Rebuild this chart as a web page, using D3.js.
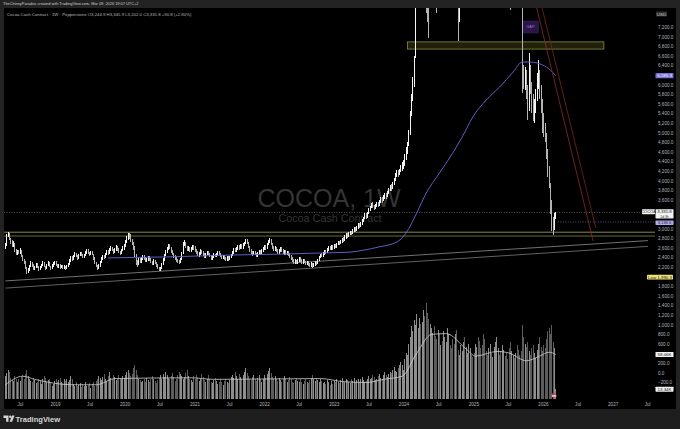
<!DOCTYPE html>
<html><head><meta charset="utf-8">
<script src="https://cdn.jsdelivr.net/npm/d3@7"></script>
<style>html,body{margin:0;padding:0;background:#222;}svg{display:block;font-family:"Liberation Sans",Arial,sans-serif;}</style>
</head><body><svg id="c" width="680" height="429"></svg>
<script>
// ---------- DATA ----------
// weekly candles per calendar segment: [high, low, close]; open = previous close
const segmentStarts = ['2018-04-16','2018-12-31','2019-12-30','2020-12-28','2021-12-27','2022-12-26','2023-12-25','2024-12-30','2025-12-29'];
const firstOpen = 2600;
const candles2018 = [[2700,2580,2650],[2880,2630,2850],[2920,2820,2880],[2900,2760,2780],[2800,2680,2720],[2760,2620,2650],[2740,2610,2700],[2710,2520,2540],[2570,2450,2480],[2560,2440,2520],[2560,2470,2500],[2590,2480,2540],[2550,2410,2430],[2450,2320,2340],[2370,2270,2300],[2320,2150,2180],[2200,2060,2100],[2170,2080,2140],[2250,2120,2220],[2330,2200,2290],[2310,2210,2240],[2260,2130,2150],[2230,2130,2200],[2290,2180,2260],[2280,2180,2210],[2230,2120,2150],[2220,2130,2190],[2270,2170,2240],[2330,2220,2300],[2310,2190,2210],[2230,2140,2170],[2270,2150,2240],[2320,2220,2290],[2300,2190,2210],[2230,2130,2160],[2260,2150,2230],[2300,2200,2270]];
const candles2019 = [[2330,2240,2300],[2320,2230,2250],[2270,2170,2200],[2270,2180,2240],[2260,2160,2190],[2250,2170,2230],[2240,2150,2180],[2250,2160,2220],[2230,2140,2170],[2240,2150,2210],[2290,2190,2260],[2360,2240,2330],[2420,2310,2390],[2420,2330,2360],[2450,2340,2420],[2510,2400,2470],[2490,2400,2430],[2450,2350,2380],[2470,2360,2440],[2520,2420,2490],[2520,2430,2460],[2480,2380,2410],[2480,2390,2450],[2540,2430,2500],[2580,2480,2550],[2570,2470,2500],[2520,2430,2460],[2540,2440,2510],[2530,2440,2470],[2480,2350,2380],[2400,2270,2300],[2310,2190,2220],[2240,2140,2170],[2260,2150,2230],[2330,2210,2300],[2400,2280,2370],[2460,2350,2430],[2460,2370,2400],[2500,2390,2470],[2560,2450,2520],[2550,2460,2490],[2590,2470,2550],[2640,2530,2600],[2620,2530,2560],[2580,2480,2510],[2600,2490,2560],[2650,2540,2610],[2630,2540,2570],[2590,2490,2520],[2540,2450,2480],[2580,2470,2550],[2640,2530,2600]];
const candles2020 = [[2680,2560,2640],[2760,2620,2720],[2840,2700,2800],[2900,2770,2860],[2910,2790,2830],[2880,2730,2760],[2790,2650,2700],[2720,2560,2600],[2630,2400,2450],[2480,2240,2300],[2340,2200,2260],[2380,2250,2340],[2380,2280,2310],[2400,2290,2370],[2440,2340,2410],[2440,2350,2380],[2400,2300,2330],[2390,2300,2360],[2430,2330,2400],[2420,2320,2350],[2380,2280,2310],[2330,2240,2280],[2360,2250,2330],[2350,2260,2290],[2310,2210,2240],[2260,2160,2190],[2210,2120,2150],[2210,2110,2180],[2290,2160,2260],[2380,2240,2350],[2470,2330,2440],[2560,2420,2520],[2620,2500,2580],[2680,2560,2640],[2670,2570,2600],[2620,2500,2530],[2560,2450,2480],[2500,2390,2420],[2440,2340,2380],[2410,2310,2340],[2370,2280,2320],[2350,2270,2300],[2390,2280,2360],[2510,2340,2480],[2720,2470,2680],[2770,2630,2720],[2730,2590,2620],[2640,2530,2560],[2630,2530,2600],[2620,2510,2540],[2610,2510,2580],[2650,2550,2620]];
const candles2021 = [[2660,2560,2600],[2630,2520,2550],[2580,2470,2500],[2530,2420,2450],[2520,2410,2490],[2570,2460,2540],[2560,2470,2500],[2530,2430,2460],[2490,2390,2420],[2490,2390,2460],[2540,2440,2510],[2530,2440,2470],[2490,2400,2420],[2450,2350,2380],[2450,2350,2420],[2490,2390,2460],[2480,2400,2430],[2500,2410,2470],[2540,2440,2510],[2540,2450,2480],[2500,2410,2440],[2460,2370,2400],[2460,2370,2430],[2450,2350,2380],[2410,2320,2350],[2420,2330,2390],[2420,2330,2360],[2430,2340,2400],[2480,2380,2450],[2530,2430,2500],[2590,2480,2560],[2600,2510,2540],[2610,2510,2580],[2650,2550,2620],[2650,2560,2590],[2670,2570,2640],[2670,2570,2600],[2690,2580,2650],[2730,2630,2700],[2780,2670,2740],[2790,2670,2700],[2720,2590,2620],[2640,2520,2550],[2580,2470,2500],[2530,2430,2460],[2540,2440,2510],[2530,2440,2470],[2490,2400,2430],[2510,2410,2480],[2550,2450,2520],[2550,2460,2490],[2570,2470,2540]];
const candles2022 = [[2610,2510,2580],[2650,2550,2620],[2660,2560,2590],[2690,2580,2660],[2760,2650,2720],[2810,2690,2760],[2780,2650,2680],[2700,2570,2600],[2630,2530,2560],[2630,2530,2600],[2620,2520,2550],[2580,2480,2510],[2580,2480,2550],[2620,2520,2590],[2610,2510,2540],[2570,2470,2500],[2560,2460,2530],[2550,2450,2480],[2540,2440,2510],[2530,2430,2460],[2490,2390,2420],[2440,2340,2380],[2410,2310,2340],[2370,2270,2300],[2360,2270,2330],[2350,2260,2290],[2360,2260,2330],[2400,2300,2370],[2400,2310,2340],[2360,2270,2300],[2370,2270,2340],[2360,2280,2310],[2330,2240,2270],[2330,2240,2300],[2320,2230,2260],[2290,2200,2230],[2300,2200,2270],[2290,2180,2220],[2290,2190,2260],[2330,2230,2300],[2330,2240,2280],[2360,2260,2330],[2420,2320,2390],[2480,2380,2450],[2490,2400,2430],[2510,2410,2480],[2560,2460,2530],[2560,2470,2500],[2590,2490,2560],[2640,2540,2610],[2640,2550,2580],[2650,2550,2620]];
const candles2023 = [[2650,2560,2600],[2680,2570,2650],[2680,2590,2620],[2710,2600,2680],[2750,2650,2720],[2750,2660,2690],[2770,2670,2740],[2810,2710,2780],[2820,2730,2760],[2860,2750,2820],[2900,2790,2860],[2900,2800,2840],[2930,2820,2890],[2960,2860,2930],[2960,2870,2900],[2990,2880,2950],[3030,2920,2990],[3030,2930,2960],[3050,2940,3010],[3110,2990,3070],[3110,3010,3040],[3140,3030,3100],[3190,3080,3150],[3250,3140,3210],[3320,3200,3280],[3320,3210,3250],[3350,3230,3310],[3420,3300,3380],[3470,3360,3430],[3540,3420,3500],[3560,3430,3470],[3500,3380,3420],[3520,3400,3480],[3560,3450,3520],[3560,3440,3480],[3590,3470,3550],[3650,3530,3610],[3650,3540,3580],[3700,3570,3650],[3740,3620,3700],[3740,3620,3660],[3780,3650,3740],[3850,3720,3800],[3910,3780,3870],[3920,3790,3830],[3970,3820,3920],[4060,3910,4010],[4150,4000,4100],[4220,4070,4170],[4230,4080,4130],[4250,4110,4200],[4320,4180,4260]];
const candles2024 = [[4380,4200,4300],[4420,4250,4350],[4550,4300,4480],[4700,4430,4620],[4800,4550,4750],[5050,4720,5000],[5450,4950,5380],[5800,5350,5700],[6150,5650,6050],[6600,5950,6500],[7700,6550,7500],[8200,7650,8000],[9200,7900,9000],[10000,8900,9700],[10300,9200,9600],[11000,9500,10500],[12200,10300,11500],[12000,10200,10900],[11000,7500,8400],[8900,7300,8000],[8500,6970,7800],[9000,7700,8800],[9600,8600,9300],[10000,9100,9800],[10300,9400,9700],[9900,8700,9000],[9100,7500,7900],[8500,7700,8200],[8500,7700,8000],[8600,7800,8300],[8500,7800,8100],[8800,7900,8500],[9100,8300,8900],[9500,8700,9200],[9900,9000,9600],[10100,9400,9800],[9900,9000,9300],[9400,8400,8700],[8800,7900,8100],[8300,7650,7800],[8100,7700,7900],[8000,7660,7700],[7800,6900,7150],[7900,7300,7700],[8300,7650,8100],[8800,8000,8600],[9200,8500,8900],[9100,8300,8700],[9600,8700,9300],[10400,9300,10100],[11500,10000,11200],[12900,11000,12000],[12300,11100,11600]];
const candles2025 = [[12000,10700,11200],[11600,10500,11000],[11800,10800,11400],[12300,11200,11900],[12000,10800,11100],[11200,10000,10300],[10600,9600,10000],[10200,9000,9400],[9500,8200,8600],[8900,7800,8200],[8500,7700,8100],[8300,7700,8000],[8400,7750,8100],[8600,7900,8300],[8500,7800,8100],[8600,7900,8300],[9000,8200,8800],[9400,8600,9200],[9800,9000,9500],[10300,9300,10000],[10200,9300,9700],[9900,9000,9300],[9700,9000,9400],[9900,9200,9600],[9700,8900,9200],[9300,8500,8900],[9000,8200,8500],[8700,7900,8300],[8400,7550,8000],[8500,7800,8200],[8600,7900,8300],[8500,7800,8100],[8500,7850,8200],[8400,7800,8100],[8300,7700,8000],[8200,7650,7900],[8100,7620,7800],[7900,5820,6300],[6400,5900,6100],[6360,5880,6200],[6300,5700,5800],[6000,5260,5500],[6650,5450,6300],[6400,5800,6000],[6050,5400,5600],[5800,5250,5300],[5700,5200,5500],[5900,5400,5700],[6240,5650,6000],[6510,5900,6200],[6300,5700,5900],[6000,5400,5600]];
const candles2026 = [[5700,5000,5300],[5400,4900,5000],[5200,4800,4950],[5000,4450,4600],[4650,4080,4200],[4300,3850,3900],[3950,3300,3550],[3600,2950,3100],[3250,2870,3050],[3330,2980,3245],[3346,3202,3336]];
// weekly volume (thousands)
const volume2018 = [30,34,38,36,28,25,24,30,27,22,26,24,29,31,27,33,38,30,26,24,22,28,25,21,23,27,24,20,26,30,28,23,25,27,22,18,20];
const volume2019 = [24,26,22,25,28,23,21,26,24,27,22,25,30,26,20,18,22,17,19,21,16,20,18,23,17,19,21,15,20,22,18,24,26,30,28,25,29,33,27,24,30,35,28,26,31,29,25,27,32,28,26,30];
const volume2020 = [28,32,36,38,34,30,33,40,45,38,32,27,25,22,24,26,23,28,25,22,26,30,27,24,21,25,28,31,27,33,29,35,32,28,26,30,34,29,24,27,31,36,33,30,27,29,34,38,30,27,25,22];
const volume2021 = [30,26,32,28,24,27,33,29,25,22,27,31,26,23,21,25,28,24,20,23,26,22,19,24,27,23,21,25,29,32,28,35,30,27,33,29,26,31,36,40,34,30,27,25,29,32,27,24,28,31,26,23];
const volume2022 = [27,31,28,33,37,40,34,29,26,30,27,24,28,25,23,27,30,26,22,25,29,26,23,21,25,28,24,22,26,23,20,24,27,23,21,25,28,31,26,24,28,25,22,26,24,21,23,20,25,22,19,24];
const volume2023 = [20,24,22,26,23,21,25,28,24,22,27,25,23,21,26,24,28,22,25,27,23,26,29,25,22,24,27,30,26,28,32,29,25,27,30,33,28,26,31,35,32,29,33,36,34,38,42,37,35,40,44,48];
const volume2024 = [45,38,52,60,58,72,80,95,88,102,96,110,92,105,98,100,115,108,125,112,104,98,92,86,95,82,78,90,84,70,76,88,80,74,92,85,70,66,78,72,84,90,64,58,70,62,74,80,68,60,72,66,58];
const volume2025 = [55,60,72,68,80,75,66,70,84,78,62,58,66,72,60,55,68,74,80,66,58,62,70,64,56,60,52,66,74,62,58,54,60,70,64,58,62,96,80,72,68,74,62,58,66,70,60,54,64,72,80,68];
const volume2026 = [62,70,66,78,88,92,84,96,74,66,13.34];
// long moving average (blue line)
const smaDates = ['2019-10-07','2020-08-10','2021-07-19','2022-04-11','2022-10-03','2023-03-27','2023-06-05','2023-08-28','2023-11-27','2024-01-15','2024-03-11','2024-04-29','2024-07-08','2024-09-16','2024-11-04','2024-12-30','2025-03-10','2025-05-19','2025-07-28','2025-09-15','2025-10-27','2025-12-01','2025-12-29','2026-02-09','2026-03-09'];
const smaValues = [2390,2410,2450,2470,2490,2510,2550,2620,2720,2910,3330,3740,4160,4580,4910,5330,5680,5950,6260,6470,6470,6450,6410,6300,6185.3];
// volume moving average (K)
const volMaDates = ['2018-04-16','2018-07-16','2018-09-17','2019-04-01','2019-08-05','2019-11-11','2020-12-14','2021-04-12','2022-10-24','2023-02-20','2023-06-26','2023-09-18','2023-12-25','2024-03-11','2024-05-27','2024-08-12','2024-11-25','2025-01-13','2025-05-05','2025-07-07','2025-10-06','2025-12-15','2026-02-02','2026-03-09'];
const volMaValues = [19,30,26,19,19,27,28,26,27,23,22,26,30,60,84,85,65,56,62,60,50,56,61,58.06];
// drawings
const levelPrices = [2925, 2845];
const trendUpperDates = ['2018-04-16','2027-07-05'], trendUpperPrices = [1910, 2750];
const trendLowerDates = ['2018-04-16','2027-07-05'], trendLowerPrices = [1760, 2630];
const redUpperDates = ['2025-10-13','2026-09-21'], redUpperPrices = [8370, 2740];
const redLowerDates = ['2025-11-10','2026-10-05'], redLowerPrices = [8370, 3010];
const zoneDates = ['2024-01-22','2026-11-16'], zonePrices = [6890, 6740];
const gapDates = ['2025-09-15','2025-12-08'], gapPrices = [7325, 7075];
// axes (labels hidden under the scale badges are left out, as on the chart)
const priceTicks = [7200,7000,6800,6600,6400,6000,5800,5600,5400,5200,5000,4800,4600,4400,4200,4000,3800,3600,3000,2800,2600,2400,2200,1800,1600,1400,1200,1000,800,600,200,0,-200];
const timeTickDates = ['2018-07-01','2019-01-01','2019-07-01','2020-01-01','2020-07-01','2021-01-01','2021-07-01','2022-01-01','2022-07-01','2023-01-01','2023-07-01','2024-01-01','2024-07-01','2025-01-01','2025-07-01','2026-01-01','2026-07-01','2027-01-01','2027-07-01'];
const timeTickLabels = ['Jul','2019','Jul','2020','Jul','2021','Jul','2022','Jul','2023','Jul','2024','Jul','2025','Jul','2026','Jul','2027','Jul'];
const lastClose = 3335.8, secondLine = 3138.6, lowMark = 1990.3, lastVolMa = 58.06, lastVolume = 13.34;
const headerText = 'TheChinnyParadox created with TradingView.com, Mar 09, 2026 19:07 UTC+2';
const legendText = 'Cocoa Cash Contract · 1W · Pepperstone   O3,244.9 H3,345.9 L3,202.0 C3,335.8 +90.8 (+2.80%)';

// ---------- BUILD ----------
const P = d3.timeParse('%Y-%m-%d');
const candleSegments = [candles2018,candles2019,candles2020,candles2021,candles2022,candles2023,candles2024,candles2025,candles2026];
const volumeSegments = [volume2018,volume2019,volume2020,volume2021,volume2022,volume2023,volume2024,volume2025,volume2026];
const bars = [];
let prev = firstOpen;
candleSegments.forEach((seg, si) => {
  const s = P(segmentStarts[si]);
  seg.forEach((c, j) => {
    bars.push({date: d3.timeDay.offset(s, 7*j), open: prev, high: c[0], low: c[1], close: c[2], vol: volumeSegments[si][j]});
    prev = c[2];
  });
});

const svg = d3.select('#c');
const pane = {l: 4, r: 655, t: 8, b: 399};
const x = d3.scaleTime().domain([P('2018-04-14'), P('2027-08-11')]).range([5, 655]);
const y = d3.scaleLinear().domain([0, 7200]).range([372.6, 27]);
const yv = d3.scaleLinear().domain([0, lastVolMa]).range([399.5, 354.5]);

// frame
svg.append('rect').attr('width', 680).attr('height', 429).attr('fill', '#232323');
svg.append('rect').attr('x', 4).attr('y', 8).attr('width', 672).attr('height', 401).attr('fill', '#000');
svg.append('rect').attr('x', 0).attr('y', 409).attr('width', 680).attr('height', 20).attr('fill', '#1e1e1e');

svg.append('defs').append('clipPath').attr('id', 'pc').append('rect')
  .attr('x', pane.l).attr('y', pane.t).attr('width', pane.r - pane.l).attr('height', pane.b - pane.t);
const g = svg.append('g').attr('clip-path', 'url(#pc)');

// watermark
g.append('text').attr('x', 329).attr('y', 207).attr('text-anchor', 'middle').attr('font-size', 25)
  .attr('fill', '#353535').text('COCOA, 1W');
g.append('text').attr('x', 330).attr('y', 222).attr('text-anchor', 'middle').attr('font-size', 10.8)
  .attr('fill', '#353535').text('Cocoa Cash Contract');

// zone box
g.append('rect').attr('x', x(P(zoneDates[0]))).attr('y', y(zonePrices[0]))
  .attr('width', x(P(zoneDates[1])) - x(P(zoneDates[0]))).attr('height', y(zonePrices[1]) - y(zonePrices[0]))
  .attr('fill', 'rgba(120,118,40,0.28)').attr('stroke', '#8c8a3c').attr('stroke-width', 0.8);
// gap box
g.append('rect').attr('x', x(P(gapDates[0]))).attr('y', y(gapPrices[0]))
  .attr('width', x(P(gapDates[1])) - x(P(gapDates[0]))).attr('height', y(gapPrices[1]) - y(gapPrices[0]))
  .attr('fill', '#2b1746').attr('stroke', '#3d2160').attr('stroke-width', 0.5);
g.append('text').attr('x', (x(P(gapDates[0])) + x(P(gapDates[1]))) / 2).attr('y', (y(gapPrices[0]) + y(gapPrices[1])) / 2 + 1.4)
  .attr('text-anchor', 'middle').attr('font-size', 4).attr('fill', '#a56ad8').text('GAP');

// level lines
g.selectAll('line.lvl').data(levelPrices).join('line').attr('class', 'lvl')
  .attr('x1', pane.l).attr('x2', pane.r).attr('y1', d => y(d)).attr('y2', d => y(d))
  .attr('stroke', (d, i) => i === 0 ? '#9a984a' : '#77763a').attr('stroke-width', 0.9);

const segLine = (dates, prices, color, w) => g.append('line')
  .attr('x1', x(P(dates[0]))).attr('y1', y(prices[0])).attr('x2', x(P(dates[1]))).attr('y2', y(prices[1]))
  .attr('stroke', color).attr('stroke-width', w);
segLine(trendUpperDates, trendUpperPrices, '#8d8d8d', 0.8);
segLine(trendLowerDates, trendLowerPrices, '#7a7a7a', 0.8);

// current price dotted line
g.append('line').attr('x1', pane.l).attr('x2', pane.r).attr('y1', y(lastClose)).attr('y2', y(lastClose))
  .attr('stroke', '#8a8a8a').attr('stroke-width', 0.6).attr('stroke-dasharray', '1,1.5');
const lastX = x(bars[bars.length - 1].date);
g.append('line').attr('x1', lastX + 2).attr('x2', pane.r).attr('y1', y(secondLine)).attr('y2', y(secondLine))
  .attr('stroke', '#8f86d8').attr('stroke-width', 0.6).attr('stroke-dasharray', '1,1.5');

// volume bars
g.selectAll('rect.v').data(bars).join('rect').attr('class', 'v')
  .attr('x', d => Math.floor(x(d.date))).attr('width', 1)
  .attr('y', d => yv(d.vol)).attr('height', d => yv(0) - yv(d.vol))
  .attr('fill', d => d.close >= d.open ? '#8e8e8e' : '#5c5c5c').attr('shape-rendering', 'crispEdges');
// volume MA
g.append('path').datum(volMaDates.map((d, i) => [P(d), volMaValues[i]]))
  .attr('d', d3.line().x(d => x(d[0])).y(d => yv(d[1])).curve(d3.curveMonotoneX))
  .attr('fill', 'none').attr('stroke', '#cfcfcf').attr('stroke-width', 0.8);

// candles
g.selectAll('rect.k').data(bars).join('rect').attr('class', 'k')
  .attr('x', d => Math.floor(x(d.date))).attr('width', 1)
  .attr('y', d => y(d.high)).attr('height', d => Math.max(1, y(d.low) - y(d.high)))
  .attr('fill', d => d.close >= d.open ? '#f4f4f4' : '#b4b4b4').attr('shape-rendering', 'crispEdges');

// SMA
g.append('path').datum(smaDates.map((d, i) => [P(d), smaValues[i]]))
  .attr('d', d3.line().x(d => x(d[0])).y(d => y(d[1])).curve(d3.curveMonotoneX))
  .attr('fill', 'none').attr('stroke', '#6a68d8').attr('stroke-width', 0.9);

// red channel lines
segLine(redUpperDates, redUpperPrices, '#8a2b2b', 0.8);
segLine(redLowerDates, redLowerPrices, '#7a2626', 0.8);

// event flag
const fl = svg.append('g').attr('transform', `translate(${Math.floor(lastX) - 1},395.5)`);
fl.append('circle').attr('r', 2.4).attr('fill', '#d23b3b');
fl.append('rect').attr('x', -2.2).attr('y', -0.6).attr('width', 4.4).attr('height', 0.7).attr('fill', '#fff');
fl.append('rect').attr('x', -2.2).attr('y', 0.9).attr('width', 4.4).attr('height', 0.6).attr('fill', '#fff');
fl.append('rect').attr('x', -1.8).attr('y', -2).attr('width', 1.8).attr('height', 1.4).attr('fill', '#3355aa');

// ---------- AXES ----------
const fmt = d3.format(',.1f');
const ya = svg.append('g').attr('transform', `translate(${pane.r},0)`)
  .call(d3.axisRight(y).tickValues(priceTicks).tickFormat(fmt).tickSize(0).tickPadding(3));
ya.select('.domain').remove();
ya.selectAll('text').attr('font-size', 4.6).attr('fill', '#b2b5be').attr('font-family', '"Liberation Sans",Arial,sans-serif');

const xa = svg.append('g').attr('transform', 'translate(0,403)')
  .call(d3.axisBottom(x).tickValues(timeTickDates.map(P)).tickFormat((d, i) => timeTickLabels[i]).tickSize(0).tickPadding(0));
xa.select('.domain').remove();
xa.selectAll('text').attr('font-size', 4.6).attr('fill', '#b2b5be').attr('font-family', '"Liberation Sans",Arial,sans-serif');

// badges on price scale
function badge(yc, txt, fill, color, x0, w, h, fs) {
  svg.append('rect').attr('x', x0).attr('y', yc - h / 2).attr('width', w).attr('height', h).attr('rx', 0.6).attr('fill', fill);
  svg.append('text').attr('x', x0 + w / 2).attr('y', yc + 1.5).attr('text-anchor', 'middle')
    .attr('font-size', fs || 4.4).attr('fill', color).text(txt);
}
badge(14, 'USD', '#303030', '#c8c8c8', 656, 11, 5);
badge(y(smaValues[smaValues.length - 1]), fmt(smaValues[smaValues.length - 1]), '#7b70d9', '#ffffff', 655.5, 18, 5.2);
// last price badge with countdown line
svg.append('rect').attr('x', 655.5).attr('y', y(lastClose) - 3.3).attr('width', 18).attr('height', 9.2).attr('rx', 0.6).attr('fill', '#f2f2f2');
svg.append('text').attr('x', 664.5).attr('y', y(lastClose) + 0.8).attr('text-anchor', 'middle')
  .attr('font-size', 4.3).attr('fill', '#111').text(fmt(lastClose));
svg.append('text').attr('x', 664.5).attr('y', y(lastClose) + 5.2).attr('text-anchor', 'middle')
  .attr('font-size', 3.4).attr('fill', '#333').text('1d 3h');
badge(y(lastClose) - 0.8, 'COCOA', '#f2f2f2', '#111', 642, 13, 5, 4);
badge(y(secondLine) + 0.8, fmt(secondLine), '#b3aaf2', '#1a1a2a', 655.5, 18, 4.4, 4.1);
badge(y(lowMark), 'Low  ' + fmt(lowMark), '#efe17a', '#1a1a1a', 647, 26, 4.8);
badge(yv(lastVolMa), lastVolMa.toFixed(2) + 'K', '#f2f2f2', '#111', 655.5, 18, 5);
badge(yv(lastVolume), lastVolume.toFixed(2) + 'K', '#f2f2f2', '#111', 655.5, 18, 5);

// ---------- TEXT ----------
svg.append('text').attr('x', 3).attr('y', 5.3).attr('font-size', 3.9).attr('fill', '#cfcfcf').text(headerText);
svg.append('text').attr('x', 7).attr('y', 15.5).attr('font-size', 4.3).attr('fill', '#b8b8b8').text(legendText);

// footer logo
const lg = svg.append('g').attr('fill', '#d6d6d6');
lg.append('path').attr('d', 'M3.5,415.5 h5 v6.3 h-2.4 v-3.9 h-2.6 z');
lg.append('circle').attr('cx', 10.2).attr('cy', 416.7).attr('r', 1.2);
lg.append('path').attr('d', 'M9.6,421.8 l2.4,-6.3 h2.5 l-2.4,6.3 z');
svg.append('text').attr('x', 15.5).attr('y', 421.6).attr('font-size', 7.6).attr('font-weight', 600)
  .attr('fill', '#d6d6d6').text('TradingView');
</script></body></html>
